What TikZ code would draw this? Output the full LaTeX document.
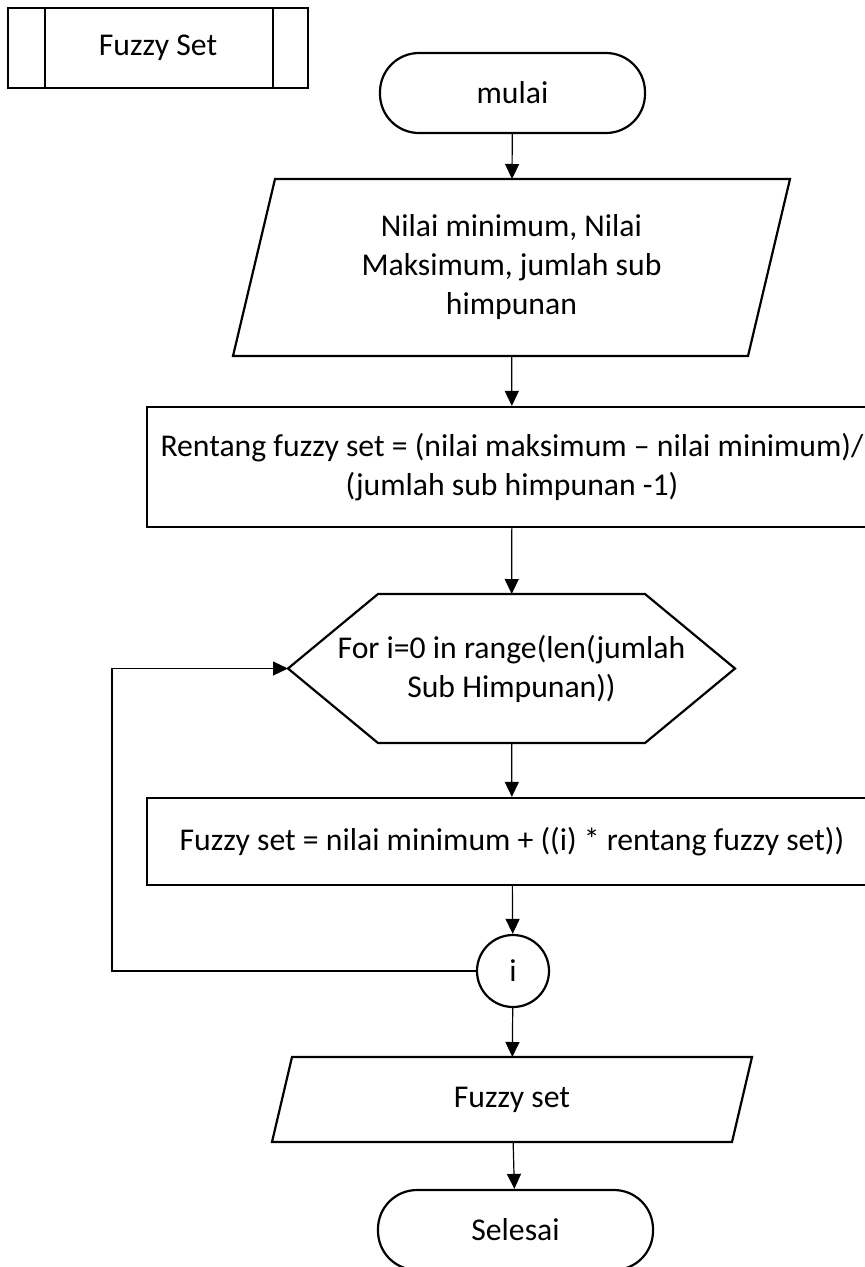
\documentclass[tikz,border=0pt]{standalone}
\usepackage{fontspec}
\setmainfont{Carlito}
\usetikzlibrary{arrows.meta, positioning}
\tikzset{
  edge/.style      = {draw=black, line width=2.2pt},
  termbox/.style   = {rectangle, edge, rounded corners=39pt, minimum width=#1, minimum height=80pt, align=center},
  procbox/.style   = {rectangle, edge, minimum width=730pt, align=center},
  plainbox/.style  = {rectangle, draw=none, inner sep=0pt, outer sep=0pt, align=center},
  joinpt/.style    = {circle, edge, minimum size=72pt, inner sep=0pt},
  flow/.style      = {-{Triangle[length=15pt, width=14pt]}, line width=1.2pt, black},
}

\begin{document}
\begin{tikzpicture}[x=1pt, y=-1pt, font=\fontsize{31.7}{39}\selectfont]
\clip (0,0) rectangle (865,1267);

% ===== judul (predefined process) =====
\node[rectangle, edge, minimum width=300pt, minimum height=80pt] (judul) at (158,48) {Fuzzy Set};
\draw[edge] ([xshift=38pt]judul.north west) -- ([xshift=38pt]judul.south west);
\draw[edge] ([xshift=-36pt]judul.north east) -- ([xshift=-36pt]judul.south east);

% ===== alur utama =====
\node[termbox=265pt] (mulai) at (512.5,93) {mulai};

% input
\node[plainbox, minimum width=557pt, minimum height=177pt] (input) at (511.5,267.5)
  {Nilai minimum, Nilai\\Maksimum, jumlah sub\\himpunan};
\draw[edge] ([xshift=42pt]input.north west) -- (input.north east)
  -- ([xshift=-42pt]input.south east) -- (input.south west) -- cycle;

% rentang
\node[procbox, minimum height=120pt] (rentang) at (512,467)
  {Rentang fuzzy set = (nilai maksimum – nilai minimum)/\\(jumlah sub himpunan -1)};

% perulangan
\node[plainbox, minimum width=447pt, minimum height=149pt] (ulang) at (511.5,668.5)
  {For i=0 in range(len(jumlah\\Sub Himpunan))};
\draw[edge] (ulang.west) -- ([xshift=90pt]ulang.north west) -- ([xshift=-90pt]ulang.north east)
  -- (ulang.east) -- ([xshift=-90pt]ulang.south east) -- ([xshift=90pt]ulang.south west) -- cycle;

% hitung fuzzy set
\node[procbox, minimum height=87pt] (hitung) at (512,841.5)
  {Fuzzy set = nilai minimum + ((i) * rentang fuzzy set))};

% titik i
\node[joinpt] (titik) at (513,971) {i};

% output
\node[plainbox, minimum width=480pt, minimum height=85pt] (output) at (512,1099.5) {Fuzzy set};
\draw[edge] ([xshift=20pt]output.north west) -- (output.north east)
  -- ([xshift=-20pt]output.south east) -- (output.south west) -- cycle;

\node[termbox=275pt] (selesai) at (515.5,1230) {Selesai};

% ===== panah =====
\draw[flow] (mulai) -- (input);
\draw[flow] (input) -- (rentang);
\draw[flow] (rentang) -- (ulang);
\draw[flow] (ulang) -- (hitung);
\draw[flow] (hitung) -- (titik);
\draw[flow] (titik) -- (output);
\draw[flow] (output) -- (selesai);

% kembali ke perulangan
\coordinate (balik) at (112,971);
\draw[flow] (titik.west) -- (balik) |- (ulang.west);

\end{tikzpicture}
\end{document}
